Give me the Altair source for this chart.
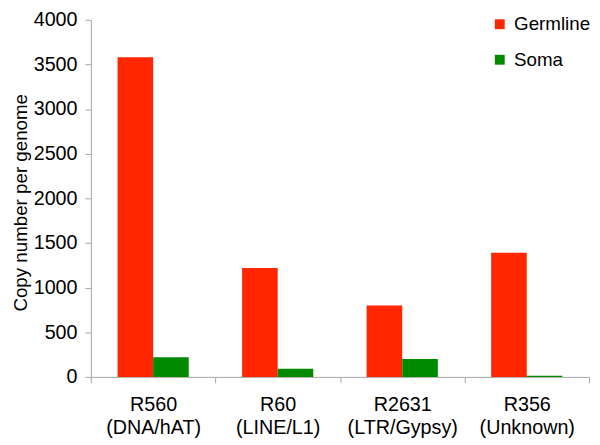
import altair as alt
import pandas as pd

categories = ["R560", "R60", "R2631", "R356"]
subtitles = ["(DNA/hAT)", "(LINE/L1)", "(LTR/Gypsy)", "(Unknown)"]
series = ["Germline", "Soma"]
germline = [3580, 1220, 800, 1390]
soma = [220, 90, 200, 12]
y_ticks = [0, 500, 1000, 1500, 2000, 2500, 3000, 3500, 4000]

rows = []
for c, s, g, so in zip(categories, subtitles, germline, soma):
    label = c + "|" + s
    rows.append({"cat": label, "series": "Germline", "value": g})
    rows.append({"cat": label, "series": "Soma", "value": so})
df = pd.DataFrame(rows)
order = [c + "|" + s for c, s in zip(categories, subtitles)]

font = "Liberation Sans"
axis_gray = "#a6a6a6"

chart = alt.Chart(df).mark_bar().encode(
    x=alt.X("cat:N", sort=order,
            scale=alt.Scale(paddingInner=0, paddingOuter=0),
            axis=alt.Axis(title=None, labelAngle=0, labelExpr="split(datum.label, '|')",
                          tickBand="extent", labelFontSize=20, labelFont=font,
                          labelColor="black", labelPadding=12, labelLineHeight=23,
                          domainColor=axis_gray, tickColor=axis_gray, tickSize=6,
                          labelBaseline="top")),
    xOffset=alt.XOffset("series:N", sort=series,
                        scale=alt.Scale(paddingInner=0, paddingOuter=0.75)),
    y=alt.Y("value:Q", scale=alt.Scale(domain=[0, 4000]),
            axis=alt.Axis(title="Copy number per genome", values=y_ticks, format="d",
                          grid=False, labelFontSize=20, labelFont=font, labelColor="black",
                          titleFontSize=19, titleFont=font, titleFontWeight="normal",
                          titleColor="black", titleX=-61, titleY=185, titleAngle=-90,
                          titleBaseline="bottom", titleAlign="center",
                          labelPadding=8,
                          domainColor=axis_gray, tickColor=axis_gray, tickSize=6)),
    color=alt.Color("series:N", sort=series,
                    scale=alt.Scale(domain=series, range=["#ff2600", "#008a00"]),
                    legend=alt.Legend(title=None, orient="none", legendX=405, legendY=-5,
                                      symbolType="square", symbolSize=100,
                                      symbolStrokeWidth=0, labelFontSize=19,
                                      labelFont=font, labelColor="black",
                                      rowPadding=16, labelOffset=5)),
).properties(width=505, height=362,
             autosize=alt.AutoSizeParams(type="none"),
             padding={"left": 84, "top": 9, "right": 3, "bottom": 60}
).configure_view(stroke=None)

chart.save("out.html", embed_options={"renderer": "svg", "actions": False})
